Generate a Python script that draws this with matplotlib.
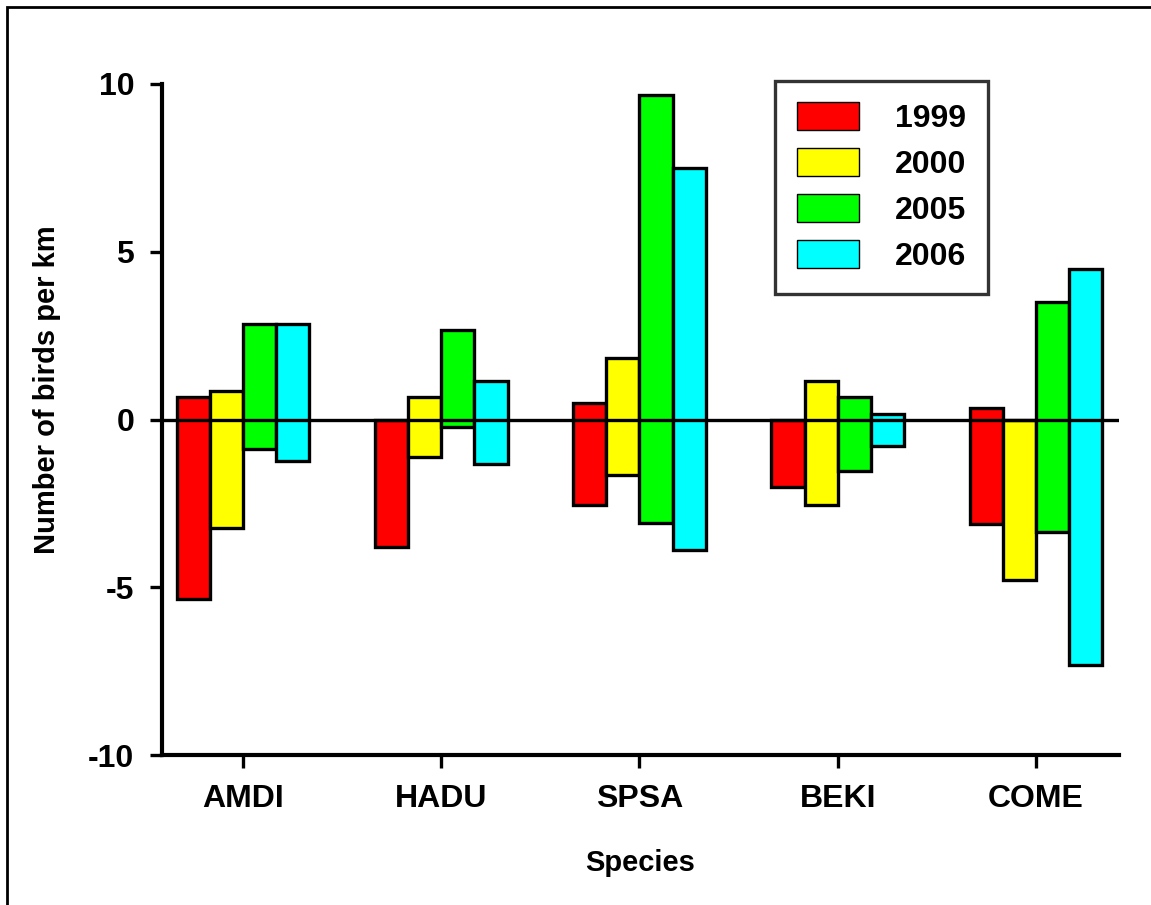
import numpy as np
import matplotlib
matplotlib.use('Agg')
import matplotlib.pyplot as plt
from matplotlib.patches import Rectangle

plt.rcParams['font.family'] = ['Liberation Sans', 'DejaVu Sans']
plt.rcParams['font.weight'] = 'bold'
plt.rcParams['axes.unicode_minus'] = False

species = ['AMDI', 'HADU', 'SPSA', 'BEKI', 'COME']
years = ['1999', '2000', '2005', '2006']
colors = ['#ff0000', '#ffff00', '#00ff00', '#00ffff']

# upper and lower ends of each floating bar (per year, per species)
high_1999 = [0.68, 0.0, 0.50, 0.0, 0.33]
low_1999 = [-5.35, -3.79, -2.56, -2.00, -3.11]
high_2000 = [0.85, 0.68, 1.84, 1.15, 0.0]
low_2000 = [-3.23, -1.11, -1.65, -2.55, -4.78]
high_2005 = [2.84, 2.67, 9.67, 0.66, 3.49]
low_2005 = [-0.87, -0.21, -3.09, -1.53, -3.34]
high_2006 = [2.84, 1.16, 7.49, 0.16, 4.49]
low_2006 = [-1.24, -1.33, -3.89, -0.78, -7.32]

highs = [high_1999, high_2000, high_2005, high_2006]
lows = [low_1999, low_2000, low_2005, low_2006]

fig = plt.figure(figsize=(11.51, 9.05), dpi=100)
ax = fig.add_axes([0.1407, 0.1657, 0.8315, 0.7415])

x = np.arange(len(species))
w = 0.167
for i in range(4):
    hi = np.array(highs[i])
    lo = np.array(lows[i])
    ax.bar(x + (i - 1.5) * w, hi - lo, bottom=lo, width=w, color=colors[i],
           edgecolor='black', linewidth=2.4, label=years[i], zorder=2)

ax.axhline(0, color='black', linewidth=2.4, zorder=3)

ax.set_xlim(-0.41, 4.42)
ax.set_ylim(-10, 10)
ax.set_yticks([-10, -5, 0, 5, 10])
ax.set_xticks(x)
ax.set_xticklabels(species)
ax.tick_params(axis='both', width=2.4, length=9, labelsize=23, direction='out')
ax.tick_params(axis='x', pad=12)
ax.tick_params(axis='y', pad=11)
for s in ['top', 'right']:
    ax.spines[s].set_visible(False)
for s in ['left', 'bottom']:
    ax.spines[s].set_linewidth(3)

ax.set_xlabel('Species', fontsize=21, fontweight='bold', labelpad=25)
ax.set_ylabel('Number of birds per km', fontsize=21, fontweight='bold')
ax.yaxis.set_label_coords(-0.105, 0.545)

leg = ax.legend(loc='upper left', bbox_to_anchor=(0.6405, 1.005),
                fontsize=23, frameon=True, fancybox=False, edgecolor='black',
                handlelength=1.94, handleheight=0.94, handletextpad=1.13,
                labelspacing=0.45, borderpad=0.68, borderaxespad=0)
leg.get_frame().set_linewidth(2.4)
for h in leg.legend_handles:
    h.set_linewidth(1)

# figure border
fig.patches.append(Rectangle((7 / 1151, -0.05), 1.1, 1.05 - 7 / 905,
                             transform=fig.transFigure, fill=False,
                             edgecolor='black', linewidth=2, zorder=0))

fig.savefig('out.png', dpi=100)
